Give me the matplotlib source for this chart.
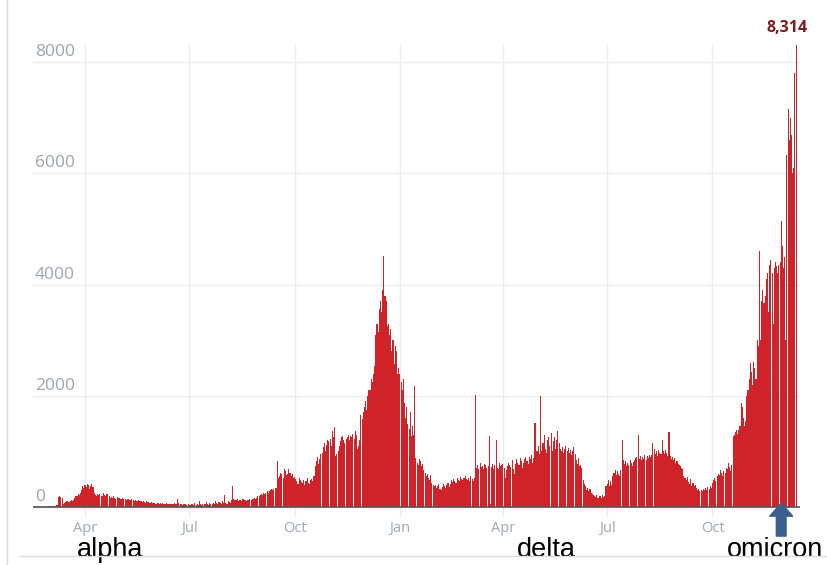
import numpy as np
import pandas as pd
import matplotlib.pyplot as plt
from matplotlib.lines import Line2D

# --- daily new cases ---
feb_2020 = [0, 0, 0, 0, 0, 0, 5, 5, 10, 10]
mar_2020 = [5, 10, 10, 15, 20, 20, 30, 40, 180, 190, 175, 170,
            60, 80, 90, 100, 110, 90, 100, 120, 110, 130,
            170, 190, 200, 230, 210, 250, 300, 380, 350]
apr_2020 = [400, 360, 410, 390, 330, 380, 420, 360, 250, 220, 200, 240, 210, 230, 190,
            200, 250, 210, 190, 230, 240, 200, 170, 180, 160, 190, 170, 150, 180, 160]
may_2020 = [160, 150, 140, 170, 150, 140, 130, 150, 140, 130, 120, 140, 130, 110,
            120, 110, 100, 120, 110, 100, 90, 100, 90, 80, 100, 90, 80, 75, 90, 80, 70]
jun_2020 = [70, 60, 75, 65, 55, 70, 60, 65, 55, 60, 70, 50, 60, 55, 60, 50, 55, 65, 50,
            60, 150, 80, 60, 50, 40, 60, 45, 50, 40, 55]
jul_2020 = [40, 30, 60, 50, 40, 70, 35, 50, 40, 100, 45, 40, 60, 50, 45, 90, 60, 40, 70,
            55, 50, 80, 60, 110, 70, 60, 90, 75, 60, 100, 80]
aug_2020 = [210, 80, 60, 100, 90, 70, 120, 380, 150, 120, 130, 140, 110, 130,
            120, 110, 140, 130, 120, 110, 130, 130, 140, 120, 150, 140, 160, 150,
            170, 190, 200]
sep_2020 = [210, 230, 220, 250, 240, 260, 280, 260, 290, 300, 320, 310, 330, 350,
            340, 830, 520, 560, 620, 600, 520, 680, 640, 580, 600, 690, 620, 560, 600, 520]
oct_2020 = [540, 500, 470, 420, 520, 480, 450, 430, 480, 400, 460, 530, 440, 420,
            480, 510, 470, 560, 740, 820, 900, 780, 860, 950, 980,
            1080, 1150, 1000, 1120, 1200, 1180]
nov_2020 = [1220, 1100, 1370, 1250, 1430, 920, 950, 1000, 1100, 1180,
            1250, 1280, 1200, 1150, 1230, 1260, 1300, 1200, 1280, 1250, 1310, 1230, 1360, 1300,
            1040, 1100, 1200, 1650, 1580, 1700]
dec_2020 = [1800, 1900, 1750, 2000, 2100, 2100, 2300, 2250, 2400, 2540,
            3100, 3300, 3150, 3560, 3700, 3500, 3900, 4520, 3800, 3700,
            3250, 3300, 3100, 3200, 2800, 3000, 2570, 2900, 2800, 2400, 2500]
jan_2021 = [2400, 2250, 2100, 2300, 1870, 1600, 1800, 1500, 1400, 1700, 1270, 1450, 1300,
            2170, 880, 800, 750, 860, 820, 730, 780, 670, 620, 560, 600, 520, 490, 580,
            430, 400, 380]
feb_2021 = [400, 350, 380, 420, 330, 310, 360, 410, 380, 340, 390, 430, 360,
            420, 480, 450, 500, 460, 430, 520, 490, 460, 540, 500, 480, 520, 550, 510]
mar_2021 = [480, 520, 460, 550, 500, 470, 530, 2020, 700, 760, 680, 790, 720, 740, 690,
            780, 750, 700, 740, 1270, 50, 720, 780, 690, 760, 1210, 700, 680, 790, 730, 760]
apr_2021 = [780, 700, 520, 660, 740, 800, 760, 720, 840, 690, 600, 780, 860, 800,
            750, 880, 820, 700, 800, 860, 900, 830, 780, 900, 870, 940, 800, 880, 1510, 1000]
may_2021 = [1000, 1100, 950, 2000, 1000, 1150, 1300, 1050, 980, 1200, 1250,
            1100, 1330, 1000, 1180, 1250, 1050, 1200, 1360, 1150, 1050, 1000, 1080, 970, 1050,
            1090, 1000, 1060, 980, 1020, 940]
jun_2021 = [1000, 1080, 950, 850, 780, 880, 730, 760, 700, 490, 420, 380, 300, 350, 280,
            320, 260, 240, 220, 200, 180, 210, 160, 190, 200, 170, 220, 180, 200, 370]
jul_2021 = [420, 490, 380, 460, 400, 550, 620, 670, 580, 640, 600, 560, 660, 1210,
            850, 780, 820, 730, 800, 760, 840, 790, 730, 810, 850, 880, 900, 1300,
            870, 920, 850]
aug_2021 = [900, 870, 940, 850, 920, 880, 940, 900, 930, 1160, 1050, 950, 1000, 910, 1030,
            980, 960, 1200, 1000, 950, 1030, 970, 920, 1350, 910, 870, 900, 850, 880, 800, 820]
sep_2021 = [780, 760, 730, 700, 680, 550, 520, 480, 540, 450, 420, 500, 380, 440, 370, 400,
            340, 300, 320, 280, 310, 290, 330, 300, 340, 310, 360, 330, 370, 350]
oct_2021 = [430, 480, 520, 460, 550, 600, 580, 670, 620, 560, 640, 610, 700, 680, 790,
            720, 650, 760, 1270, 1300, 1350, 1390, 1320, 1380, 1450,
            1870, 1800, 1600, 1450, 1550, 1990]
nov_2021 = [2100, 2300, 2590, 2430, 2200, 2600, 2500, 2300, 3000, 2900, 4600,
            3000, 3700, 3900, 3670, 3800, 4100, 4200, 3500, 4350, 4450, 4200, 3300, 4300, 4400,
            4330, 4200, 4350, 4400, 5140]
dec_2021 = [4700, 4300, 4500, 3000, 6340, 7150, 6600, 7000, 6700, 6000, 6100, 7800, 8314]

start_date = '2020-02-20'
tick_dates = ['2020-04-01', '2020-07-01', '2020-10-01', '2021-01-01',
              '2021-04-01', '2021-07-01', '2021-10-01']
tick_labels = ['Apr', 'Jul', 'Oct', 'Jan', 'Apr', 'Jul', 'Oct']
y_ticks = [0, 2000, 4000, 6000, 8000]

variants = ['alpha', 'delta', 'omicron']
variant_dates = ['2020-04-23', '2021-05-09', '2021-11-25']
omicron_arrow_date = '2021-11-30'

months = [feb_2020, mar_2020, apr_2020, may_2020, jun_2020, jul_2020, aug_2020,
          sep_2020, oct_2020, nov_2020, dec_2020, jan_2021, feb_2021, mar_2021,
          apr_2021, may_2021, jun_2021, jul_2021, aug_2021, sep_2021, oct_2021,
          nov_2021, dec_2021]
cases = np.concatenate([np.array(m, dtype=float) for m in months])
dates = pd.date_range(start_date, periods=len(cases), freq='D')

# ==========================================
# FIGURE
# ==========================================
fig = plt.figure(figsize=(8.28, 5.65), dpi=100)
ax = fig.add_axes([33 / 828, 48 / 565, 767 / 828, 472 / 565])

ax.bar(dates, cases, width=0.93, color='#cf2229', linewidth=0, zorder=2)
ax.axhline(0, color='#555555', linewidth=1.2, zorder=3)

ax.set_xlim(pd.Timestamp('2020-02-15 14:00'), pd.Timestamp('2021-12-16 10:00'))
ax.set_ylim(-180, 8310)

ax.set_xticks(pd.to_datetime(tick_dates))
ax.set_xticklabels(tick_labels, family='Open Sans', fontsize=10.5, color='#9fa8b5')
ax.set_yticks(y_ticks)
ax.set_yticklabels([])
ax.tick_params(length=0, pad=3)
ax.grid(True, color='#ececec', linewidth=1, zorder=0)
ax.set_axisbelow(True)
for s in ax.spines.values():
    s.set_visible(False)

# y labels sit inside the plot, just above each gridline
for v in y_ticks:
    ax.annotate(str(v), xy=(0, v), xycoords=('axes fraction', 'data'),
                xytext=(2, 6), textcoords='offset pixels', ha='left', va='baseline',
                family='Open Sans', fontsize=12.5, color='#9ea4ad')

# peak value
i_max = int(np.argmax(cases))
ax.annotate(f'{int(cases[i_max]):,}', xy=(dates[i_max], cases[i_max]),
            xytext=(-9, 13), textcoords='offset pixels', ha='center', va='baseline',
            family='Open Sans', fontweight='bold', fontsize=11.5, color='#7d1d1d',
            annotation_clip=False)

# variant names under the axis
for name, d in zip(variants, pd.to_datetime(variant_dates)):
    ax.annotate(name, xy=(d, 8), xycoords=('data', 'figure pixels'),
                ha='center', va='baseline', family='Liberation Sans',
                fontsize=19.5, color='black', annotation_clip=False)

# blue arrow pointing at omicron onset
ax.annotate('', xy=(pd.Timestamp(omicron_arrow_date), 70), xycoords='data',
            xytext=(0, -33), textcoords='offset pixels',
            arrowprops=dict(arrowstyle='simple,head_length=0.94,head_width=1.65,tail_width=0.7',
                            color='#3b5f8e', shrinkA=0, shrinkB=0),
            annotation_clip=False)

# outer frame lines from the screenshot
fig.add_artist(Line2D([7 / 828, 7 / 828], [0, 1], color='#dcdcdc', linewidth=1))
fig.add_artist(Line2D([20 / 828, 1], [9 / 565, 9 / 565], color='#dcdcdc', linewidth=1))

fig.savefig('out.png', dpi=100)
